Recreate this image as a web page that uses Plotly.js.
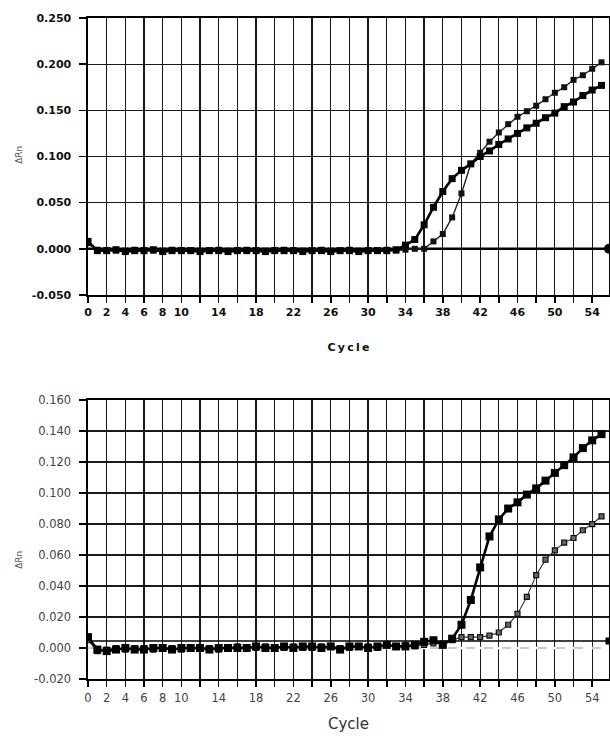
<!DOCTYPE html>
<html>
<head>
<meta charset="utf-8">
<script src="https://cdn.plot.ly/plotly-3.0.1.min.js"></script>
<style>html,body{margin:0;padding:0;background:#fff;}#chart{width:610px;height:736px;}</style>
</head>
<body>
<div id="chart"></div>
<script>
// ---- data ----
const cycles = [0,1,2,3,4,5,6,7,8,9,10,11,12,13,14,15,16,17,18,19,20,21,22,23,24,25,26,27,28,29,30,31,32,33,34,35,36,37,38,39,40,41,42,43,44,45,46,47,48,49,50,51,52,53,54,55];

const topEarly = [0.008,
  -0.002,-0.002,-0.001,-0.003,-0.002,-0.002,-0.001,-0.003,-0.002,-0.002,
  -0.002,-0.003,-0.002,-0.002,-0.003,-0.002,-0.002,-0.002,-0.003,-0.002,
  -0.002,-0.002,-0.003,-0.002,-0.002,-0.003,-0.002,-0.002,-0.003,-0.002,
  -0.002,-0.002,-0.001,
  0.004,0.010,0.026,0.045,0.062,0.076,0.085,0.092,0.100,0.106,0.113,0.119,0.125,0.131,0.136,0.142,0.147,0.154,0.159,0.166,0.172,0.177];

const topLate = [0.006,
  -0.001,-0.002,-0.002,-0.002,-0.001,-0.002,-0.002,-0.002,-0.001,-0.002,
  -0.002,-0.002,-0.002,-0.001,-0.002,-0.002,-0.001,-0.002,-0.002,-0.002,
  -0.001,-0.002,-0.002,-0.002,-0.001,-0.002,-0.002,-0.001,-0.002,-0.002,
  -0.002,-0.001,-0.002,-0.001,0.000,
  0.000,0.008,0.016,0.034,0.060,0.092,0.104,0.116,0.126,0.135,0.143,0.149,0.155,0.162,0.169,0.175,0.183,0.188,0.195,0.202];

const bottomEarly = [0.007,
  -0.001,-0.002,-0.001,0.000,-0.001,-0.001,0.000,0.000,-0.001,0.000,
  0.000,0.000,-0.001,0.000,0.000,0.000,0.000,0.001,0.000,0.000,
  0.001,0.000,0.001,0.001,0.000,0.001,-0.001,0.001,0.001,0.000,
  0.001,0.002,0.001,0.001,0.002,0.004,0.005,0.002,
  0.006,0.015,0.031,0.052,0.072,0.083,0.090,0.094,0.099,0.103,0.108,0.113,0.118,0.123,0.129,0.134,0.138];

const bottomLate = [0.005,
  -0.002,-0.001,0.000,-0.001,0.000,0.000,-0.001,0.000,0.000,-0.001,
  0.000,0.000,0.000,-0.001,0.000,0.001,0.000,0.000,0.001,0.000,
  0.000,0.001,0.000,0.000,0.001,0.001,0.000,0.000,0.001,0.001,
  0.000,0.002,0.001,0.002,0.001,0.002,0.003,0.003,
  0.005,0.007,0.007,0.007,0.008,0.010,0.015,0.022,0.033,0.047,0.057,0.063,0.068,0.071,0.076,0.080,0.085];

const topThreshold = 0.0;
const bottomThreshold = 0.0045;

const xTickVals = [0,2,4,6,8,10,12,14,16,18,20,22,24,26,28,30,32,34,36,38,40,42,44,46,48,50,52,54];
const xTickText = ['0','2','4','6','8','10','','14','','18','','22','','26','','30','','34','','38','','42','','46','','50','','54'];
const topYVals = [-0.05,0,0.05,0.1,0.15,0.2,0.25];
const topYText = ['-0.050','0.000','0.050','0.100','0.150','0.200','0.250'];
const botYVals = [-0.02,0,0.02,0.04,0.06,0.08,0.1,0.12,0.14,0.16];
const botYText = ['-0.020','0.000','0.020','0.040','0.060','0.080','0.100','0.120','0.140','0.160'];
const xMax = 55.8;

// ---- traces ----
const traces = [
  {x: cycles, y: topLate, xaxis:'x', yaxis:'y', mode:'lines+markers',
   line:{color:'#222', width:1.4}, marker:{symbol:'square', size:6, color:'#111'}},
  {x: cycles, y: topEarly, xaxis:'x', yaxis:'y', mode:'lines+markers',
   line:{color:'#000', width:2.6}, marker:{symbol:'square', size:7, color:'#000'}},
  {x: [xMax], y: [topThreshold], xaxis:'x', yaxis:'y', mode:'markers', cliponaxis:false,
   marker:{symbol:'circle', size:10, color:'#000'}},
  {x: cycles, y: bottomLate, xaxis:'x2', yaxis:'y2', mode:'lines+markers',
   line:{color:'#333', width:1.1}, marker:{symbol:'square', size:5, color:'#666', line:{color:'#111', width:1.2}}},
  {x: cycles, y: bottomEarly, xaxis:'x2', yaxis:'y2', mode:'lines+markers',
   line:{color:'#000', width:2.6}, marker:{symbol:'square', size:8, color:'#000'}},
  {x: [xMax], y: [bottomThreshold], xaxis:'x2', yaxis:'y2', mode:'markers', cliponaxis:false,
   marker:{symbol:'square', size:7, color:'#000'}}
];

const gridCommon = {showgrid:true, gridcolor:'#1a1a1a', gridwidth:1.3, zeroline:false,
  showline:true, linecolor:'#000', linewidth:1.6, mirror:true,
  ticks:'outside', tickcolor:'#000', tickwidth:1.5};

const boldTick = {family:'DejaVu Sans', size:11, weight:'bold', color:'#111'};
const regTick = {family:'DejaVu Sans', size:11.5, color:'#444'};

const layout = {
  width:610, height:736,
  margin:{l:88, r:1, t:18, b:57},
  paper_bgcolor:'#fff', plot_bgcolor:'#fff',
  showlegend:false,
  xaxis: Object.assign({}, gridCommon, {domain:[0,1], anchor:'y', range:[0,xMax],
    tickmode:'array', tickvals:xTickVals, ticktext:xTickText, ticklen:6, tickfont:boldTick,
    title:{text:'C\u2009y\u2009c\u2009l\u2009e', font:{family:'DejaVu Sans', size:11, weight:'bold', color:'#111'}, standoff:25}}),
  yaxis: Object.assign({}, gridCommon, {domain:[0.581,1], anchor:'x', range:[-0.05,0.25],
    tickmode:'array', tickvals:topYVals, ticktext:topYText, ticklen:7, ticklabelstandoff:6, tickfont:boldTick}),
  xaxis2: Object.assign({}, gridCommon, {domain:[0,1], anchor:'y2', range:[0,xMax],
    tickmode:'array', tickvals:xTickVals, ticktext:xTickText, ticklen:6, ticklabelstandoff:2, tickfont:regTick,
    title:{text:'Cycle', font:{family:'DejaVu Sans', size:15, color:'#333'}, standoff:14}}),
  yaxis2: Object.assign({}, gridCommon, {domain:[0,0.422], anchor:'x2', range:[-0.02,0.16],
    tickmode:'array', tickvals:botYVals, ticktext:botYText, ticklen:7, ticklabelstandoff:6, tickfont:regTick}),
  shapes: [
    {type:'line', xref:'x', yref:'y', x0:0, x1:xMax, y0:topThreshold, y1:topThreshold, layer:'between',
     line:{color:'#000', width:2.4}},
    {type:'line', xref:'x2', yref:'y2', x0:0, x1:xMax, y0:0, y1:0, layer:'between',
     line:{color:'#fff', width:2.5}},
    {type:'line', xref:'x2', yref:'y2', x0:0, x1:xMax, y0:0, y1:0, layer:'between',
     line:{color:'#999', width:1, dash:'dash'}},
    {type:'line', xref:'x2', yref:'y2', x0:0, x1:xMax, y0:bottomThreshold, y1:bottomThreshold, layer:'between',
     line:{color:'#000', width:1.6}}
  ],
  annotations: [
    {text:'\u0394Rn', xref:'paper', yref:'y', x:-0.134, y:0.102, showarrow:false, textangle:-90,
     xanchor:'center', yanchor:'middle', font:{family:'DejaVu Sans', size:9, color:'#555'}},
    {text:'\u0394Rn', xref:'paper', yref:'y2', x:-0.134, y:0.057, showarrow:false, textangle:-90,
     xanchor:'center', yanchor:'middle', font:{family:'DejaVu Sans', size:9, color:'#555'}}
  ]
};

Plotly.newPlot('chart', traces, layout, {displayModeBar:false, staticPlot:true});
</script>
</body>
</html>
